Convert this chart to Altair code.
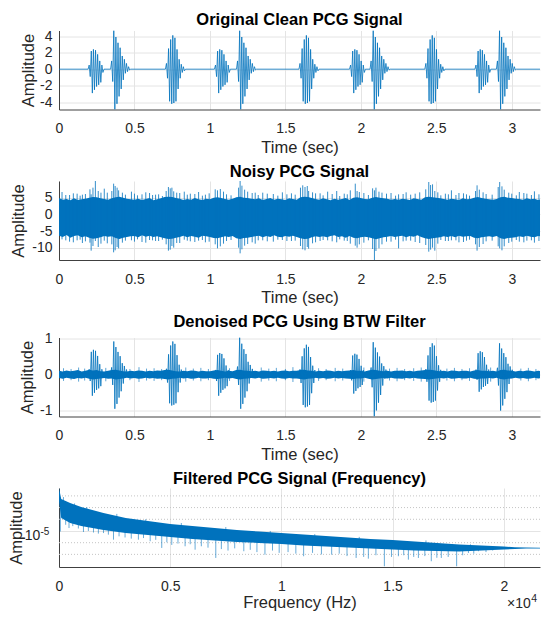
import altair as alt
import numpy as np
import pandas as pd

FONT = "Liberation Sans"
BLUE = "#0072BD"
W, H = 481, 79

# ---------------- data ----------------
T_MAX = 3.244          # end of the recorded signal (s)
T_VIEW = 3.187         # visible end of the time axis in this frame (s)
F_VIEW = 21628         # visible end of the frequency axis in this frame (Hz)
TIME_TICKS = [0, 0.5, 1, 1.5, 2, 2.5, 3]
FREQ_TICKS = [0, 5000, 10000, 15000, 20000]

# heart-sound bursts of the clean signal
BURST_START = [0.193, 0.342, 0.705, 1.030, 1.176, 1.590, 1.925, 2.061, 2.424, 2.756, 2.898]
BURST_KIND = ["S1", "S2", "S3", "S1", "S2", "S3", "S1", "S2", "S3", "S1", "S2"]
PEAK_DT = 0.007        # spacing of successive oscillation peaks (s)
S1_PEAKS = [0.5, -0.9, 2.2, -2.9, 2.4, -2.5, 2.3, -2.1, 1.8, -1.9, 1.0, -1.6, 0.5, -0.4]
S2_PEAKS = [1.0, -1.5, 4.69, -4.89, 3.9, -4.2, 3.2, -3.3, 2.6, -2.4, 1.6, -1.3, 1.2, -0.5, 0.7, -0.3, 0.3, -0.1]
S3_PEAKS = [0.7, -1.1, 2.5, -3.9, 3.6, -4.2, 4.1, -4.1, 3.8, -3.9, 2.4, -2.4, 1.2, -1.1, 0.6, -0.4, 0.3, -0.2]

# denoised burst extremes (per burst)
DEN_TOP = [0.68, 0.91, 0.91, 0.59, 1.02, 0.82, 0.57, 0.89, 0.86, 0.64, 0.86]
DEN_BOT = [-0.59, -0.95, -0.86, -0.59, -0.95, -0.91, -0.53, -1.16, -0.78, -0.48, -1.00]

BAND_DT = 0.025        # sampling of the noise-band envelopes (s)
NOISY_HI = [4.9, 4.4, 4.6, 4.2, 4.8, 4.3, 4.5, 4.7, 5.0, 5.2,
            5.1, 4.8, 4.6, 4.4, 4.8, 5.1, 5.3, 5.0, 4.7, 4.5,
            4.4, 4.7, 4.3, 4.6, 4.9, 4.2, 4.5, 4.8, 5.2, 5.3,
            5.2, 4.9, 4.7, 4.3, 4.6, 4.4, 4.9, 4.5, 4.3, 4.7,
            4.5, 5.0, 5.1, 4.9, 4.6, 4.4, 4.7, 5.1, 5.3, 5.0,
            4.9, 4.7, 4.5, 4.8, 4.3, 4.6, 4.9, 4.4, 4.7, 4.5,
            4.3, 4.8, 4.6, 4.4, 5.1, 5.3, 5.2, 4.9, 4.6, 4.4,
            4.8, 4.5, 4.2, 4.7, 4.4, 4.6, 4.9, 4.3, 5.0, 5.1,
            4.9, 4.6, 4.5, 5.0, 5.2, 5.0, 4.8, 4.7, 4.4, 4.6,
            4.4, 4.7, 4.5, 4.3, 4.8, 4.6, 4.4, 5.1, 5.3, 5.1,
            5.0, 4.8, 4.6, 4.4, 4.7, 4.5, 4.3, 4.8, 4.5, 4.6,
            5.0, 5.2, 4.9, 4.7, 4.5, 4.4, 4.6, 5.1, 5.3, 5.0,
            4.9, 4.7, 4.6, 4.4, 4.8, 4.5, 4.7, 4.3, 4.6, 4.4,
            4.6]
NOISY_LO = [-6.4, -6.8, -6.2, -7.0, -6.5, -6.3, -6.9, -6.6, -7.0, -7.3,
            -7.2, -6.9, -6.5, -6.7, -6.6, -7.1, -7.4, -7.0, -6.8, -6.6,
            -6.5, -6.9, -6.3, -6.7, -6.4, -6.8, -6.6, -6.9, -7.2, -7.4,
            -7.3, -7.0, -6.8, -6.4, -6.9, -6.5, -6.7, -7.0, -6.4, -6.6,
            -6.8, -7.1, -7.2, -6.9, -6.6, -6.8, -6.5, -7.2, -7.4, -7.1,
            -7.0, -6.8, -6.6, -6.4, -6.9, -6.5, -6.8, -6.3, -6.7, -6.9,
            -6.5, -6.7, -6.4, -6.8, -7.2, -7.4, -7.3, -6.9, -6.6, -6.8,
            -6.6, -6.9, -6.5, -6.3, -6.8, -6.6, -7.0, -6.5, -7.0, -7.2,
            -6.9, -6.7, -6.9, -7.2, -7.5, -7.2, -6.9, -6.7, -6.5, -6.8,
            -6.6, -6.4, -6.9, -6.5, -6.7, -6.3, -6.8, -7.2, -7.4, -7.2,
            -7.0, -6.9, -6.6, -6.8, -6.5, -6.9, -6.4, -6.7, -6.6, -6.5,
            -7.0, -7.2, -6.9, -6.7, -6.6, -6.8, -6.5, -7.2, -7.4, -7.1,
            -7.0, -6.9, -6.6, -6.8, -6.4, -6.7, -6.9, -6.5, -6.6, -6.8,
            -6.7]
# tall spikes of the noisy signal
NOISY_SPIKE_T = [0.02, 0.07, 0.12, 0.155, 0.205, 0.213, 0.225, 0.241, 0.26, 0.278, 0.30,
                 0.35, 0.362, 0.372, 0.385, 0.395, 0.42, 0.48, 0.55, 0.60, 0.64,
                 0.71, 0.725, 0.737, 0.748, 0.76, 0.78, 0.83, 0.87, 0.925, 0.97,
                 1.035, 1.05, 1.069, 1.09, 1.19, 1.20, 1.212, 1.23, 1.25, 1.28,
                 1.35, 1.42, 1.48, 1.54, 1.60, 1.615, 1.63, 1.645, 1.654, 1.68,
                 1.73, 1.78, 1.84, 1.89, 1.93, 1.963, 1.975, 1.99,
                 2.078, 2.09, 2.10, 2.12, 2.14, 2.20, 2.25, 2.30, 2.36,
                 2.43, 2.45, 2.462, 2.475, 2.49, 2.51, 2.56, 2.60, 2.65, 2.70,
                 2.76, 2.77, 2.785, 2.81, 2.91, 2.92, 2.935, 2.95, 2.98,
                 3.05, 3.10, 3.15, 3.20, 3.235]
NOISY_SPIKE_HI = [6.7, 5.8, 6.2, 5.9, 7.5, 6.0, 8.0, 10.0, 7.0, 6.5, 7.7,
                  7.0, 9.2, 8.5, 8.0, 7.2, 6.5, 6.8, 6.0, 6.4, 5.9,
                  7.0, 8.2, 7.8, 8.0, 6.9, 6.5, 6.8, 6.2, 6.7, 5.9,
                  7.5, 7.2, 7.6, 6.8, 8.0, 10.0, 8.6, 7.4, 6.8, 6.4,
                  6.5, 6.1, 6.6, 6.3, 8.0, 8.7, 8.2, 8.5, 7.0, 6.6,
                  6.3, 6.8, 7.0, 6.2, 7.2, 9.2, 7.0, 6.7,
                  7.8, 7.2, 8.0, 6.8, 6.5, 6.4, 6.0, 6.6, 6.2,
                  7.5, 9.7, 8.8, 9.0, 7.0, 6.6, 6.2, 7.2, 6.4, 6.0,
                  7.0, 8.7, 7.4, 6.6, 8.2, 9.7, 8.4, 7.4, 6.5,
                  6.7, 6.2, 6.9, 6.0, 6.4]
NOISY_SPIKE_LO = [-7.5, -8.2, -7.8, -8.6, -8.5, -10.9, -9.5, -8.0, -9.8, -8.8, -7.9,
                  -9.0, -11.4, -10.8, -9.8, -10.2, -8.5, -7.8, -8.3, -7.7, -8.0,
                  -9.0, -10.9, -10.6, -9.5, -10.0, -8.6, -7.6, -8.1, -7.9, -8.4,
                  -9.0, -10.2, -9.6, -8.8, -10.0, -11.7, -10.5, -9.4, -8.9, -8.4,
                  -7.8, -8.2, -7.7, -8.0, -9.5, -10.5, -10.8, -9.8, -10.3, -8.7,
                  -8.0, -7.8, -8.4, -7.9, -8.8, -9.4, -10.0, -9.0,
                  -10.4, -13.7, -11.0, -10.2, -9.0, -8.2, -10.2, -7.9, -8.3,
                  -9.2, -11.2, -10.6, -10.0, -10.9, -8.8, -8.0, -7.8, -8.4, -7.9,
                  -9.0, -10.9, -9.8, -8.9, -9.6, -10.2, -10.8, -9.6, -8.6,
                  -8.2, -7.9, -8.5, -7.8, -8.1]
# small spikes along the band edges
NOISY_SMALL_T = [0.045, 0.095, 0.14, 0.175, 0.32, 0.44, 0.50, 0.52, 0.575, 0.62, 0.66, 0.685,
                 0.80, 0.85, 0.90, 0.95, 0.995, 1.11, 1.14, 1.30, 1.32, 1.38, 1.45, 1.51,
                 1.565, 1.70, 1.75, 1.81, 1.86, 1.91, 2.02, 2.05, 2.17, 2.23, 2.28, 2.33,
                 2.39, 2.53, 2.58, 2.63, 2.68, 2.72, 2.83, 2.87, 3.00, 3.03, 3.08, 3.13, 3.18]
NOISY_SMALL_HI = [5.8, 6.3, 5.6, 6.1, 6.5, 5.9, 6.2, 5.7, 6.6, 5.8, 6.0, 5.5,
                  6.4, 5.9, 6.1, 5.6, 6.3, 6.0, 5.7, 6.5, 5.8, 6.2, 5.6, 6.0,
                  5.9, 6.3, 5.7, 6.1, 5.5, 6.0, 6.4, 5.8, 6.2, 5.6, 6.1, 5.9,
                  6.6, 5.7, 6.0, 5.8, 6.3, 5.6, 6.1, 5.9, 6.2, 5.7, 6.4, 5.8, 6.0]
NOISY_SMALL_LO = [-7.8, -8.4, -7.6, -8.1, -8.7, -7.9, -8.2, -7.5, -8.5, -7.8, -8.0, -7.6,
                  -8.6, -7.9, -8.3, -7.7, -8.2, -8.0, -7.7, -8.8, -7.8, -8.1, -7.6, -8.0,
                  -7.9, -8.4, -7.7, -8.1, -7.5, -8.0, -8.5, -7.8, -8.2, -7.6, -8.1, -7.9,
                  -8.6, -7.7, -8.0, -7.8, -8.3, -7.6, -8.1, -7.9, -8.2, -7.7, -8.4, -7.8, -8.0]

DEN_HI = [0.10, 0.08, 0.11, 0.09, 0.10, 0.12, 0.08, 0.10, 0.13, 0.11,
          0.12, 0.09, 0.08, 0.10, 0.12, 0.13, 0.11, 0.09, 0.08, 0.10,
          0.09, 0.11, 0.10, 0.08, 0.10, 0.09, 0.11, 0.10, 0.12, 0.13,
          0.11, 0.09, 0.08, 0.10, 0.09, 0.11, 0.10, 0.08, 0.10, 0.09,
          0.09, 0.11, 0.12, 0.10, 0.08, 0.10, 0.09, 0.12, 0.13, 0.11,
          0.10, 0.09, 0.10, 0.08, 0.11, 0.10, 0.09, 0.10, 0.08, 0.10,
          0.11, 0.09, 0.10, 0.10, 0.12, 0.13, 0.11, 0.10, 0.08, 0.10,
          0.09, 0.11, 0.10, 0.08, 0.10, 0.09, 0.10, 0.11, 0.12, 0.10,
          0.10, 0.08, 0.11, 0.13, 0.12, 0.10, 0.09, 0.10, 0.08, 0.10,
          0.10, 0.11, 0.09, 0.10, 0.08, 0.10, 0.11, 0.12, 0.13, 0.12,
          0.10, 0.09, 0.10, 0.08, 0.11, 0.10, 0.09, 0.10, 0.10, 0.08,
          0.11, 0.12, 0.10, 0.10, 0.09, 0.10, 0.08, 0.12, 0.13, 0.11,
          0.10, 0.08, 0.10, 0.09, 0.11, 0.10, 0.08, 0.10, 0.09, 0.10,
          0.10]
DEN_LO = [-0.10, -0.12, -0.09, -0.11, -0.13, -0.10, -0.11, -0.09, -0.12, -0.14,
          -0.13, -0.11, -0.10, -0.12, -0.11, -0.14, -0.13, -0.11, -0.09, -0.11,
          -0.10, -0.12, -0.11, -0.09, -0.11, -0.10, -0.12, -0.11, -0.13, -0.14,
          -0.12, -0.11, -0.09, -0.11, -0.10, -0.12, -0.11, -0.09, -0.11, -0.11,
          -0.10, -0.12, -0.13, -0.11, -0.09, -0.11, -0.10, -0.13, -0.14, -0.12,
          -0.11, -0.10, -0.11, -0.09, -0.12, -0.11, -0.10, -0.11, -0.09, -0.11,
          -0.12, -0.10, -0.11, -0.11, -0.13, -0.14, -0.12, -0.11, -0.09, -0.11,
          -0.10, -0.12, -0.11, -0.09, -0.11, -0.10, -0.11, -0.12, -0.13, -0.11,
          -0.11, -0.09, -0.12, -0.14, -0.13, -0.11, -0.10, -0.11, -0.09, -0.11,
          -0.11, -0.12, -0.10, -0.11, -0.09, -0.11, -0.12, -0.13, -0.14, -0.13,
          -0.11, -0.10, -0.11, -0.09, -0.12, -0.11, -0.10, -0.11, -0.11, -0.09,
          -0.12, -0.13, -0.11, -0.11, -0.10, -0.11, -0.09, -0.13, -0.14, -0.12,
          -0.11, -0.09, -0.11, -0.10, -0.12, -0.11, -0.09, -0.11, -0.10, -0.11,
          -0.11]
# small spikes of the denoised signal along its noise band
DEN_SMALL_T = [0.03, 0.08, 0.13, 0.17, 0.31, 0.47, 0.53, 0.58, 0.63, 0.68, 0.84, 0.89,
               0.94, 0.99, 1.13, 1.34, 1.39, 1.44, 1.50, 1.55, 1.72, 1.77, 1.83, 1.88,
               2.02, 2.19, 2.24, 2.29, 2.35, 2.40, 2.57, 2.62, 2.67, 2.72, 2.86, 3.06,
               3.11, 3.16]
DEN_SMALL_HI = [0.17, 0.15, 0.19, 0.16, 0.18, 0.15, 0.20, 0.16, 0.17, 0.15, 0.19, 0.16,
                0.18, 0.15, 0.17, 0.19, 0.16, 0.18, 0.15, 0.20, 0.17, 0.15, 0.18, 0.16,
                0.19, 0.16, 0.18, 0.15, 0.17, 0.19, 0.16, 0.18, 0.15, 0.17, 0.19, 0.16,
                0.18, 0.15]
DEN_SMALL_LO = [-0.18, -0.16, -0.20, -0.17, -0.19, -0.16, -0.21, -0.17, -0.18, -0.16, -0.20, -0.17,
                -0.19, -0.16, -0.18, -0.20, -0.17, -0.19, -0.16, -0.21, -0.18, -0.16, -0.19, -0.17,
                -0.20, -0.17, -0.19, -0.16, -0.18, -0.20, -0.17, -0.19, -0.16, -0.18, -0.20, -0.17,
                -0.19, -0.16]

# spectrum envelope, amplitudes in units of 1e-5
SPEC_F = [0, 100, 500, 1000, 1500, 2000, 2500, 3000, 3500, 4000,
          4500, 5000, 6000, 7000, 8000, 9000, 10000, 11000, 12000, 13000,
          14000, 15000, 16000, 17000, 18000, 19000, 20000, 20500, 21000, 22050]
SPEC_HI = [2.33, 1.877, 1.735, 1.604, 1.512, 1.425, 1.357, 1.292, 1.254, 1.218,
           1.182, 1.148, 1.103, 1.061, 1.020, 0.990, 0.961, 0.933, 0.906, 0.880,
           0.854, 0.838, 0.813, 0.790, 0.767, 0.752, 0.737, 0.726, 0.721, 0.718]
SPEC_LO = [1.80, 1.292, 1.170, 1.103, 1.060, 1.020, 0.990, 0.961, 0.940, 0.924,
           0.905, 0.889, 0.854, 0.829, 0.805, 0.790, 0.774, 0.752, 0.737, 0.723,
           0.709, 0.695, 0.681, 0.675, 0.668, 0.681, 0.695, 0.702, 0.707, 0.710]
SPEC_DOWN_F = [60, 300, 450, 620, 870, 1100, 1320, 1550, 1770, 2000, 2220, 2450, 2700, 2970,
               3250, 3570, 3800, 4100, 4350, 4620, 4850, 5070, 5350, 5670, 5900, 6120, 6400,
               6700, 7050, 7300, 7600, 7900, 8310, 8600, 8900, 9260, 9600, 9900, 10300, 10650,
               11000, 11400, 11800, 12260, 12600, 12950, 13360, 13700, 13910, 14250, 14630,
               14950, 15260, 15500, 15710, 15950, 16160, 16450, 16740, 16990, 17190, 17500,
               17880, 18150, 18410, 18650, 18860, 19200, 19500]
SPEC_DOWN_V = [0.99, 1.13, 1.06, 1.10, 1.05, 0.98, 1.00, 0.97, 0.95, 0.96, 0.93, 0.843, 0.90, 0.88,
               0.86, 0.843, 0.87, 0.817, 0.84, 0.716, 0.80, 0.76, 0.78, 0.74, 0.77, 0.692, 0.74,
               0.72, 0.588, 0.70, 0.68, 0.71, 0.671, 0.69, 0.66, 0.627, 0.68, 0.65, 0.66, 0.64,
               0.608, 0.65, 0.63, 0.627, 0.64, 0.61, 0.588, 0.60, 0.58, 0.62, 0.499,
               0.60, 0.608, 0.62, 0.569, 0.60, 0.588, 0.61, 0.551, 0.59, 0.588, 0.60,
               0.499, 0.62, 0.649, 0.64, 0.671, 0.66, 0.68]
SPEC_UP_F = [200, 700, 1250, 2600, 3900, 5500, 7500, 9500, 11500, 13500, 16500, 18500]
SPEC_UP_V = [1.95, 1.72, 1.60, 1.40, 1.26, 1.17, 1.08, 1.00, 0.94, 0.89, 0.83, 0.77]
SPEC_MINOR = [0.631, 0.794, 1.259, 1.585, 1.995]
SPEC_DOMAIN = [0.492, 2.331]

# ---------------- tables built from the arrays ----------------
SHAPES = {"S1": S1_PEAKS, "S2": S2_PEAKS, "S3": S3_PEAKS}


def burst_series(tops=None, bots=None):
    ts, vs = [0.0], [0.0]
    for i, (t0, kind) in enumerate(zip(BURST_START, BURST_KIND)):
        pk = SHAPES[kind]
        gp = 1.0 if tops is None else tops[i] / max(pk)
        gn = 1.0 if bots is None else bots[i] / min(pk)
        ts.append(t0)
        vs.append(0.0)
        for j, p in enumerate(pk):
            ts.append(t0 + (j + 1) * PEAK_DT)
            vs.append(p * (gp if p > 0 else gn))
        ts.append(t0 + (len(pk) + 1) * PEAK_DT)
        vs.append(0.0)
    ts.append(T_MAX)
    vs.append(0.0)
    return pd.DataFrame({"t": ts, "v": vs})


clean_df = burst_series()
den_df = burst_series(DEN_TOP, DEN_BOT)
band_t = [round(i * BAND_DT, 4) for i in range(len(NOISY_HI))]
noisy_band = pd.DataFrame({"t": band_t, "hi": NOISY_HI, "lo": NOISY_LO})
den_band = pd.DataFrame({"t": band_t, "hi": DEN_HI, "lo": DEN_LO})
noisy_spk = pd.DataFrame({"t": NOISY_SPIKE_T + NOISY_SMALL_T,
                          "hi": NOISY_SPIKE_HI + NOISY_SMALL_HI,
                          "lo": NOISY_SPIKE_LO + NOISY_SMALL_LO})
den_spk = pd.DataFrame({"t": DEN_SMALL_T, "hi": DEN_SMALL_HI, "lo": DEN_SMALL_LO})

spec_band = pd.DataFrame({"f": SPEC_F, "hi": np.array(SPEC_HI) * 1e-5, "lo": np.array(SPEC_LO) * 1e-5})
down_top = np.interp(SPEC_DOWN_F, SPEC_F, SPEC_LO) * 1.03
spec_down = pd.DataFrame({"f": SPEC_DOWN_F, "a": np.array(SPEC_DOWN_V) * 1e-5, "b": down_top * 1e-5})
up_base = np.interp(SPEC_UP_F, SPEC_F, SPEC_HI) * 0.97
spec_up = pd.DataFrame({"f": SPEC_UP_F, "a": np.array(SPEC_UP_V) * 1e-5, "b": up_base * 1e-5})
minor_df = pd.DataFrame({"v": np.array(SPEC_MINOR) * 1e-5})
one = pd.DataFrame({"v": [1e-5]})

# ---------------- encodings ----------------
def title(text):
    return alt.TitleParams(text=text, font=FONT, fontSize=16.5, fontWeight="bold",
                           color="#000000", anchor="middle", frame="group", offset=1)


tscale = alt.Scale(domain=[0, T_VIEW], nice=False, zero=False)


def X(xtp=3.5):
    return alt.X("t:Q", scale=tscale,
                 axis=alt.Axis(values=TIME_TICKS, title="Time (sec)", labelExpr="datum.value",
                               labelOverlap=False, labelFlush=False, titlePadding=xtp))


def Y(field, dom, vals, tp):
    return alt.Y(f"{field}:Q", scale=alt.Scale(domain=dom, nice=False, zero=False),
                 axis=alt.Axis(values=vals, title="Amplitude", labelExpr="datum.value",
                               labelOverlap=False, labelFlush=False, titlePadding=tp))


# panel 1
p1 = alt.Chart(clean_df).mark_line(color=BLUE, strokeWidth=0.8, clip=True).encode(
    x=X(), y=Y("v", [-4.89, 4.69], [-4, -2, 0, 2, 4], 3.5),
).properties(width=W, height=H, title=title("Original Clean PCG Signal"))

# panel 2
ND = [-13.7, 10.0]
NV = [-10, -5, 0, 5]
p2 = alt.layer(
    alt.Chart(noisy_band).mark_area(color=BLUE, clip=True).encode(
        x=X(), y=Y("hi", ND, NV, 5), y2="lo:Q"),
    alt.Chart(noisy_spk).mark_rule(color=BLUE, strokeWidth=1, opacity=0.8, clip=True).encode(
        x=X(), y=Y("hi", ND, NV, 5), y2="lo:Q"),
).properties(width=W, height=H, title=title("Noisy PCG Signal"))

# panel 3
DD = [-1.164, 1.02]
DV = [-1, 0, 1]
p3 = alt.layer(
    alt.Chart(den_band).mark_area(color=BLUE, clip=True).encode(
        x=X(), y=Y("hi", DD, DV, 4), y2="lo:Q"),
    alt.Chart(den_spk).mark_rule(color=BLUE, strokeWidth=0.8, opacity=0.8, clip=True).encode(
        x=X(), y=Y("hi", DD, DV, 4), y2="lo:Q"),
    alt.Chart(den_df).mark_line(color=BLUE, strokeWidth=0.8, clip=True).encode(
        x=X(), y=Y("v", DD, DV, 4)),
).properties(width=W, height=H, title=title("Denoised PCG Using BTW Filter"))

# panel 4
fscale = alt.Scale(domain=[0, F_VIEW], nice=False, zero=False)
fx = alt.X("f:Q", scale=fscale, axis=alt.Axis(values=FREQ_TICKS, title="Frequency (Hz)",
                                              labelExpr="datum.value / 10000",
                                              labelOverlap=False, labelFlush=False,
                                              titlePadding=1.5))
ls = alt.Scale(type="log", domain=[SPEC_DOMAIN[0] * 1e-5, SPEC_DOMAIN[1] * 1e-5], nice=False)
ly = alt.Axis(values=[1e-5], labels=False, title="Amplitude", titlePadding=34.6)
p4 = alt.layer(
    alt.Chart(minor_df).mark_rule(color="#c4c4c4", strokeDash=[1, 2], strokeWidth=1).encode(
        y=alt.Y("v:Q", scale=ls, axis=ly)),
    alt.Chart(spec_band).mark_area(color=BLUE, clip=True).encode(
        x=fx, y=alt.Y("hi:Q", scale=ls, axis=ly), y2="lo:Q"),
    alt.Chart(spec_down).mark_rule(color=BLUE, strokeWidth=0.8, opacity=0.75, clip=True).encode(
        x=fx, y=alt.Y("a:Q", scale=ls, axis=ly), y2="b:Q"),
    alt.Chart(spec_up).mark_rule(color=BLUE, strokeWidth=0.8, opacity=0.75, clip=True).encode(
        x=fx, y=alt.Y("a:Q", scale=ls, axis=ly), y2="b:Q"),
    alt.Chart(one).mark_text(text="10", align="right", baseline="middle", font=FONT,
                             fontSize=14, color="#262626", dy=5).encode(
        x=alt.value(-18.6), y=alt.Y("v:Q", scale=ls, axis=ly)),
    alt.Chart(one).mark_text(text="-5", align="left", baseline="middle", font=FONT,
                             fontSize=10, color="#262626", dy=1).encode(
        x=alt.value(-18.6), y=alt.Y("v:Q", scale=ls, axis=ly)),
    alt.Chart(one).mark_text(text="×10", align="left", baseline="middle", font=FONT,
                             fontSize=14, color="#262626").encode(
        x=alt.value(448), y=alt.value(116)),
    alt.Chart(one).mark_text(text="4", align="left", baseline="middle", font=FONT,
                             fontSize=10.5, color="#262626").encode(
        x=alt.value(472.3), y=alt.value(111)),
).properties(width=W, height=H, title=title("Filtered PCG Signal (Frequency)"))

chart = alt.vconcat(p1, p2, p3, p4, spacing=7.5).properties(
    padding={"left": 0, "top": 3.5, "right": 0, "bottom": 0}
).configure_view(stroke=None).configure_axis(
    labelFont=FONT, titleFont=FONT, labelFontSize=14, titleFontSize=16.5,
    titleFontWeight="normal", labelColor="#262626", titleColor="#262626",
    domainColor="#404040", domainWidth=1, gridColor="#e4e4e4", gridWidth=1,
    ticks=False, minExtent=0, labelFlush=False, labelOverlap=False,
).configure_axisX(labelPadding=12).configure_axisY(labelPadding=7)

chart.save("out.html", embed_options={"renderer": "svg", "actions": False})
